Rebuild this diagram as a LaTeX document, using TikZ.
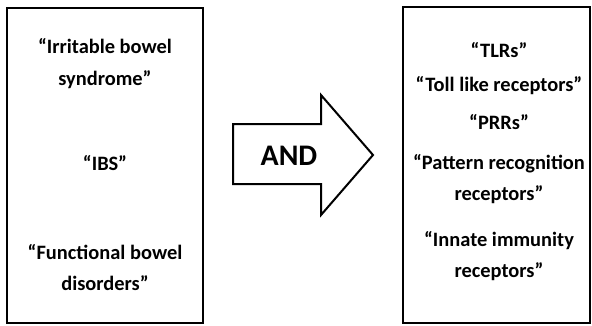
\documentclass[tikz,border=0pt]{standalone}
\usepackage{fontspec}
\setmainfont{Carlito}
\usetikzlibrary{positioning}

\begin{document}
\begin{tikzpicture}[x=1bp,y=-1bp,
  frame/.style={draw,line width=2bp,inner sep=0pt,minimum width=196bp,
                minimum height=315bp},
  term/.style={align=center,inner sep=0pt,
               font=\bfseries\fontsize{20.5}{32}\selectfont},
  blockarrow/.style={draw,line width=2bp,line join=miter,fill=white}
]
\useasboundingbox (0,0) rectangle (592,325);

% Disease terms.
\node[frame] (disease) at (105,165.5) {};
\node[term] (ibsfull) at (105,63.5) {“Irritable bowel\\syndrome”};
\node[term] (ibs) at (105,163) {“IBS”};
\node[term] (fbd) at (105,267.5) {“Functional bowel\\disorders”};

% Combining operator.
\draw[blockarrow] (233,124) -- (321,124) -- (321,95) -- (373,155)
  -- (321,215) -- (321,184) -- (233,184) -- cycle;
\node[font=\bfseries\fontsize{30}{30}\selectfont] (and) at (289,156) {AND};

% Receptor terms.
\node[frame,minimum width=187bp,minimum height=316bp] (receptor) at (496.5,165) {};
\node[term] (tlr) at (499,50) {“TLRs”};
\node[term] (tlrfull) at (499,86) {“Toll like receptors”};
\node[term] (prr) at (499,122) {“PRRs”};
\node[term] (prrfull) at (499,179) {“Pattern recognition\\receptors”};
\node[term] (innate) at (499,256) {“Innate immunity\\receptors”};
\end{tikzpicture}
\end{document}
